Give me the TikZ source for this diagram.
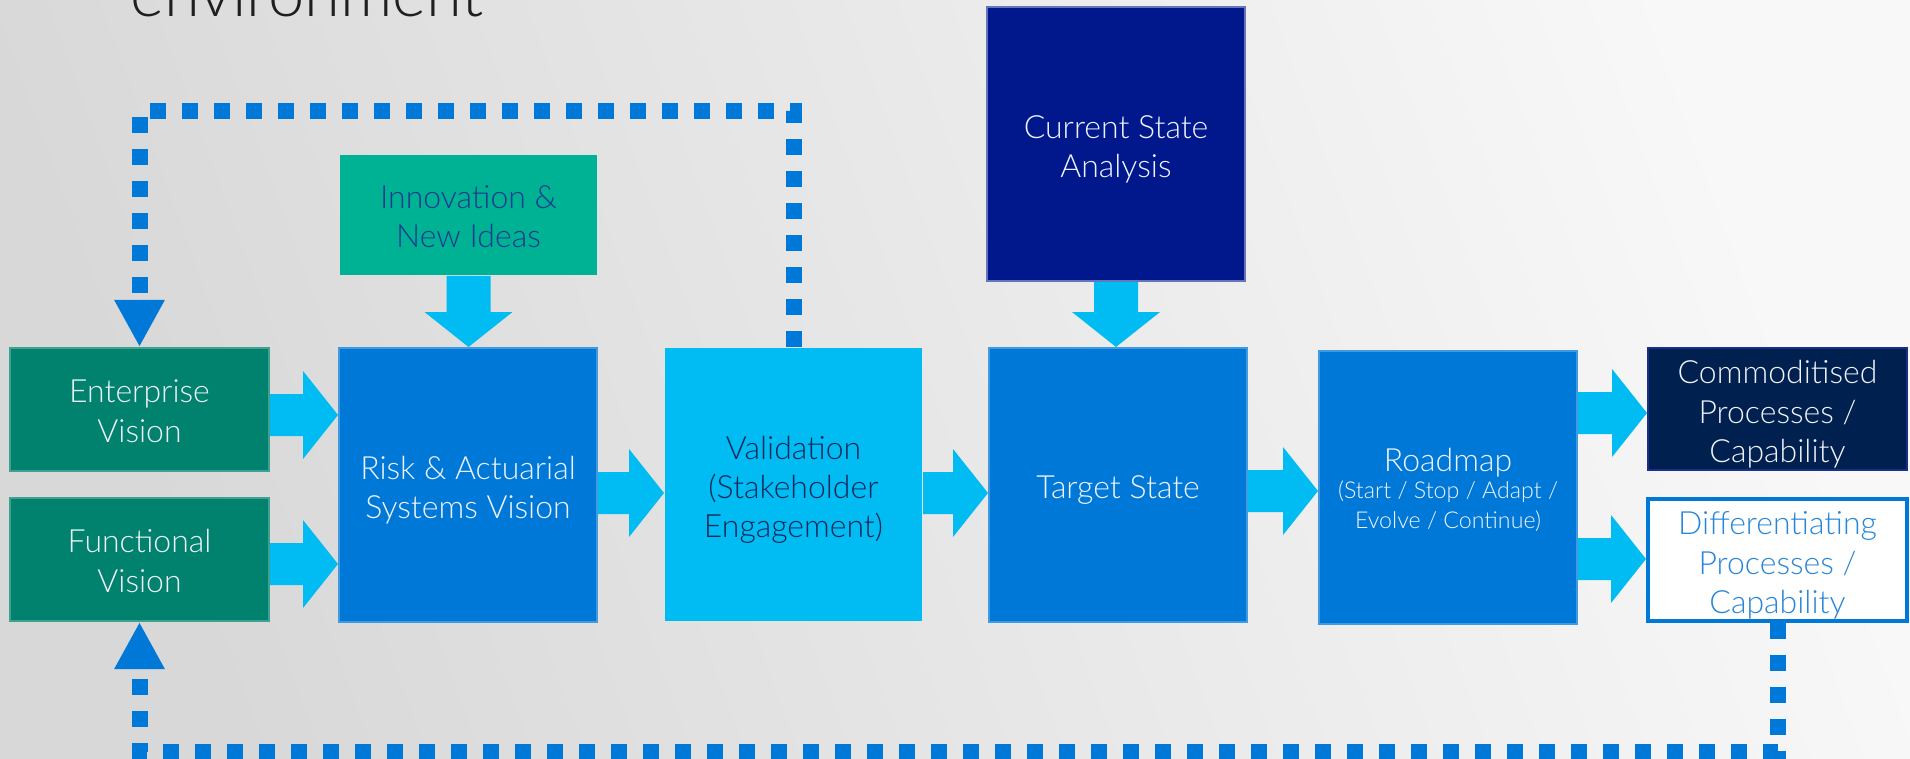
\documentclass[tikz,border=0pt]{standalone}
\usepackage{fontspec}
\setmainfont{Lato}[UprightFont={* Light}]
\usetikzlibrary{calc,arrows.meta}
\definecolor{bgdark}{HTML}{D8D8D8}
\definecolor{bglight}{HTML}{F8F8F8}
\definecolor{tealbox}{HTML}{00826F}
\definecolor{innobox}{HTML}{00B294}
\definecolor{innotext}{HTML}{1F3A8E}
\definecolor{bluebox}{HTML}{0078D7}
\definecolor{cyanbox}{HTML}{00BCF2}
\definecolor{valtext}{HTML}{13295B}
\definecolor{curbox}{HTML}{00188C}
\definecolor{commbox}{HTML}{002050}
\definecolor{commedge}{HTML}{1B2E8C}
\definecolor{difftext}{HTML}{2886D8}
\definecolor{wtext}{HTML}{F0F4F8}
\newcommand\bxfont{\fontsize{9.1}{11.2}\selectfont}
\newcommand\subfont{\fontsize{6.6}{8}\selectfont}
\newcommand\tp[1][9.6pt]{\rule{0pt}{#1}}
\newcommand\harr[3]{%
  \coordinate (hS) at (#1.east |- #3);
  \coordinate (hE) at (#2.west |- #3);
  \fill[arrowfill] ($(hS)+(0,-21)$) -- ($(hE)+(-35,-21)$) -- ($(hE)+(-35,-44)$) -- (hE)
    -- ($(hE)+(-35,44)$) -- ($(hE)+(-35,21)$) -- ($(hS)+(0,21)$) -- cycle;}
\newcommand\varr[2]{%
  \coordinate (vS) at (#1.south);
  \coordinate (vE) at (#2.north -| vS);
  \fill[arrowfill] ($(vS)+(-22,0)$) -- ($(vE)+(-22,-35)$) -- ($(vE)+(-44,-35)$) -- (vE)
    -- ($(vE)+(44,-35)$) -- ($(vE)+(22,-35)$) -- ($(vS)+(22,0)$) -- cycle;}
\begin{document}
\begin{tikzpicture}[x=0.1mm,y=-0.1mm,
  box/.style={rectangle, inner sep=0pt, align=center, font=\bxfont, line width=0.2mm},
  arrowfill/.style={fill=cyanbox},
  loopline/.style={draw=bluebox, line width=1.6mm, dash pattern=on 1.6mm off 1.6mm,
    -{Triangle[length=4.7mm,width=4.7mm]}}]
\useasboundingbox (0,0) rectangle (1910,759);
\shade[left color=bgdark, right color=bglight, shading angle=110] (0,0) rectangle (1910,759);

\node[anchor=base west, inner sep=0pt, font=\fontsize{18.5}{22}\selectfont, text=black!88] (title) at (130,17) {environment};

\node[box, fill=tealbox, draw=tealbox!75!white, text=wtext, minimum width=25.9mm, minimum height=12.3mm] (ent) at (139.5,409.5) {\tp[7.5pt]Enterprise\\Vision};
\node[box, fill=tealbox, draw=tealbox!75!white, text=wtext, minimum width=25.9mm, minimum height=12.3mm] (fun) at (139.5,559.5) {\tp[7.5pt]Functional\\Vision};
\node[box, fill=bluebox, draw=bluebox!75!white, text=wtext, minimum width=25.8mm, minimum height=27.4mm] (risk) at (468,485) {\tp Risk \& Actuarial\\Systems Vision};
\node[box, fill=innobox, text=innotext, minimum width=25.7mm, minimum height=12mm] (inno) at (468.5,215) {\tp[7.5pt]Innovation \&\\New Ideas};
\node[box, fill=cyanbox, text=valtext, minimum width=25.7mm, minimum height=27.3mm] (val) at (793.5,484.5) {\tp Validation\\(Stakeholder\\Engagement)};
\node[box, fill=bluebox, draw=bluebox!75!white, text=wtext, minimum width=25.8mm, minimum height=27.4mm] (tgt) at (1118,485) {\tp Target State};
\node[box, fill=curbox, draw=curbox!60!white, text=wtext, minimum width=25.8mm, minimum height=27.4mm] (cur) at (1116,144) {\tp Current State\\Analysis};
\node[box, fill=bluebox, draw=bluebox!75!white, text=wtext, minimum width=25.8mm, minimum height=27.3mm] (road) at (1448,487.5) {\tp[8.2pt]Roadmap\\[-3.7pt]\subfont (Start / Stop / Adapt /\\[-2.5pt]\subfont Evolve / Continue)};
\node[box, fill=commbox, draw=commedge, text=wtext, minimum width=25.9mm, minimum height=12.2mm] (comm) at (1777.5,409) {\tp Commoditised\\Processes /\\Capability};
\node[box, fill=white, draw=bluebox, line width=0.4mm, text=difftext, minimum width=25.9mm, minimum height=12.2mm] (diff) at (1777.5,560) {\tp Differentiating\\Processes /\\Capability};

\coordinate (ytop) at (0,111);
\coordinate (ybot) at (0,752);
\draw[loopline] (val.north) |- (ent.north |- ytop) -- (ent.north);
\draw[loopline] (diff.south) |- (fun.south |- ybot) -- (fun.south);

\coordinate (yA) at (0,415);
\coordinate (yB) at (0,564);
\coordinate (yC) at (0,493);
\coordinate (yD) at (0,491);
\coordinate (yE) at (0,413);
\coordinate (yF) at (0,559);
\harr{ent}{risk}{yA}
\harr{fun}{risk}{yB}
\harr{risk}{val}{yC}
\harr{val}{tgt}{yC}
\harr{tgt}{road}{yD}
\harr{road}{comm}{yE}
\harr{road}{diff}{yF}
\varr{inno}{risk}
\varr{cur}{tgt}
\end{tikzpicture}
\end{document}
